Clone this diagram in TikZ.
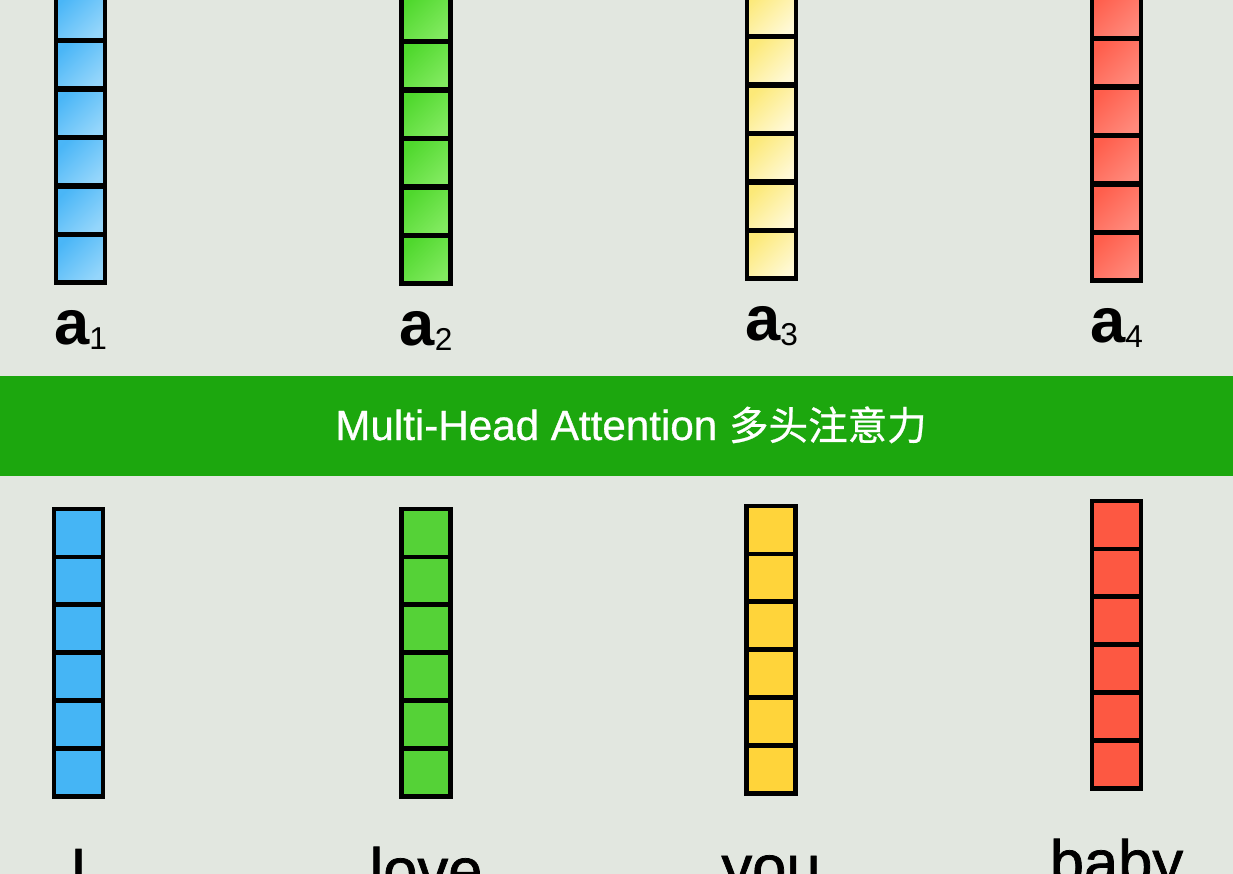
\documentclass[tikz,border=0pt]{standalone}
\usepackage{fontspec}
\setmainfont{Liberation Sans}
\newfontfamily\cjk[FakeBold=0.6]{Noto Sans CJK SC}
\newfontfamily\titlefont[FakeBold=0.8]{Liberation Sans}
\newfontfamily\wordfont[FakeBold=1.2]{Liberation Sans}
\usepackage{xcolor}
\usetikzlibrary{positioning}
\definecolor{paper}{HTML}{E2E7E0}
\definecolor{bargreen}{HTML}{1CA70E}
\definecolor{blueA}{HTML}{4AB6F7}
\definecolor{blueB}{HTML}{95D6FB}
\definecolor{greenA}{HTML}{4FD82D}
\definecolor{greenB}{HTML}{82EA60}
\definecolor{yelA}{HTML}{FCE978}
\definecolor{yelB}{HTML}{FFF9D6}
\definecolor{redA}{HTML}{FF5E4C}
\definecolor{redB}{HTML}{FF8A7C}
\definecolor{blueC}{HTML}{45B5F5}
\definecolor{greenC}{HTML}{55D237}
\definecolor{yelC}{HTML}{FFD43A}
\definecolor{redC}{HTML}{FD5842}

\begin{document}
\begin{tikzpicture}[x=0.02cm,y=-0.02cm,
  cell/.style={draw=black,line width=2.6pt,minimum width=0.98cm,minimum height=0.96cm,inner sep=0pt},
  toplab/.style={anchor=base,inner sep=0pt,font=\fontsize{36}{40}\selectfont\bfseries},
  word/.style={anchor=base,inner sep=0pt,font=\wordfont\fontsize{35}{40}\selectfont}]
  \clip (0,0) rectangle (1233,874);
  \fill[paper] (0,0) rectangle (1233,874);
  % output vectors
  \foreach \c/\x/\b/\lo/\hi in {1/80.5/283/blueA/blueB, 2/426/284/greenA/greenB,
      3/771.5/279/yelA/yelB, 4/1116.5/281/redA/redB}{
    \foreach \k in {1,...,7}
      \node[cell,left color=\lo,right color=\hi,shading angle=45] (out\c-\k) at (\x,{\b-48.5*(\k-0.5)}) {};
    \node[toplab] (a\c) at (\x,{\b+62}) {a\raisebox{-2.5pt}{\mdseries\fontsize{18}{18}\selectfont\c}};
  }
  % attention layer
  \node[fill=bargreen,minimum width=24.66cm,minimum height=2cm,inner sep=0pt] (bar) at (616.5,426) {};
  \node[anchor=base,text=white,inner sep=0pt,font=\titlefont\fontsize{24}{26}\selectfont] (title) at (631,440)
    {Multi-Head Attention {\cjk\fontsize{22.5}{26}\selectfont 多头注意力}};
  % input vectors
  \foreach \c/\x/\t/\col/\w in {1/78.5/509/blueC/I, 2/426/509/greenC/love,
      3/771/506/yelC/you, 4/1116.5/501/redC/baby}{
    \foreach \k in {1,...,6}
      \node[cell,fill=\col] (in\c-\k) at (\x,{\t+47.9*(\k-0.5)}) {};
    \node[word] (w\c) at (\x,{\t+6*47.9+95}) {\w};
  }
\end{tikzpicture}
\end{document}
